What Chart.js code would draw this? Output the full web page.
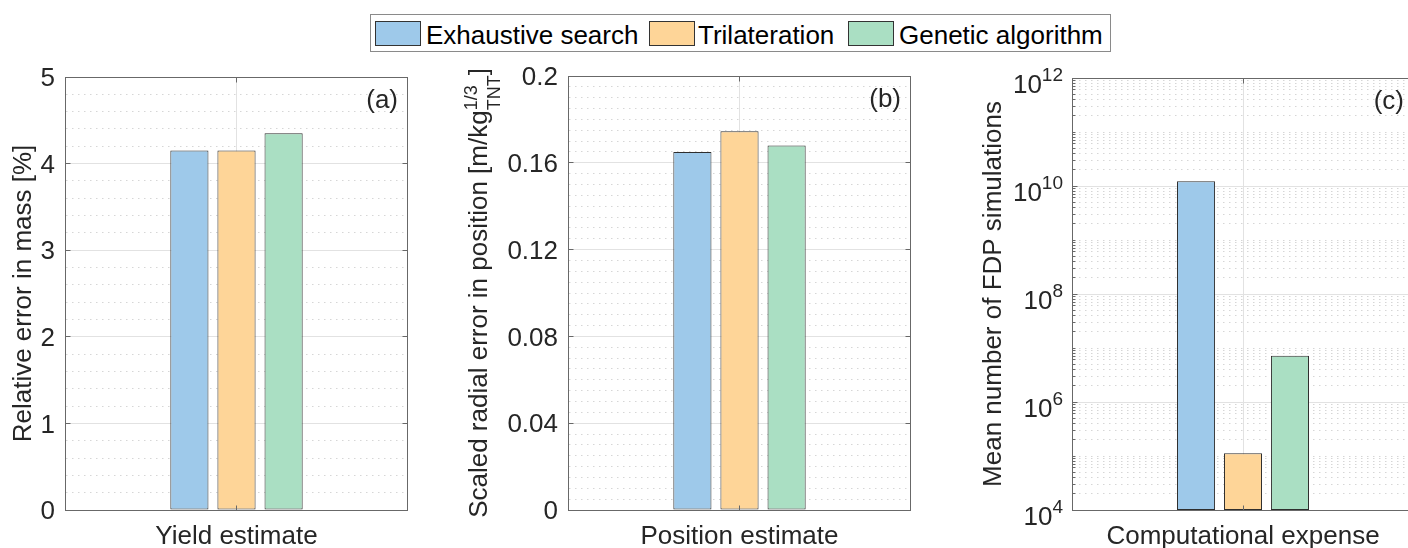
<!DOCTYPE html>
<html>
<head>
<meta charset="utf-8">
<script src="https://cdn.jsdelivr.net/npm/chart.js@4.4.1/dist/chart.umd.min.js"></script>
<style>
html,body{margin:0;padding:0;background:#fff;overflow:hidden;width:1408px;height:548px;position:relative}
canvas{position:absolute;top:0}
#legend{position:absolute;left:370px;top:14px;width:739px;height:36px;border:1px solid #8a8a8a;background:#fff;
  font:26px "Liberation Sans",Arial,sans-serif;color:#000}
#legend .sw{position:absolute;top:6px;width:44px;height:23px;border:1px solid #333}
#legend .lt{position:absolute;top:6px;line-height:29px;white-space:nowrap}
</style>
</head>
<body>
<div id="legend"></div>
<canvas id="cA" width="430" height="548" style="left:0px"></canvas>
<canvas id="cB" width="500" height="548" style="left:430px"></canvas>
<canvas id="cC" width="500" height="548" style="left:930px"></canvas>
<script>
// values
const algorithms = ['Exhaustive search', 'Trilateration', 'Genetic algorithm'];
const categories = ['Yield estimate', 'Position estimate', 'Computational expense'];
const yieldError = [4.15, 4.15, 4.35];
const positionError = [0.165, 0.1745, 0.168];
const fdpRuns = [1.23e10, 1.13e5, 7.2e6];
const yieldTicks = [0, 1, 2, 3, 4, 5];
const yieldTickLabels = ['0', '1', '2', '3', '4', '5'];
const positionTicks = [0, 0.04, 0.08, 0.12, 0.16, 0.2];
const positionTickLabels = ['0', '0.04', '0.08', '0.12', '0.16', '0.2'];
const runExponents = [4, 6, 8, 10, 12];
const panelTags = ['(a)', '(b)', '(c)'];
const massTitle = ['Relative error in mass [%]'];
const positionTitle = ['Scaled radial error in position [m/kg', '1/3', 'TNT', ']'];
const runsTitle = ['Mean number of FDP simulations'];

const barColors = ['#9ec9ea', '#fed598', '#aadfc3'];
const FAMILY = '"Liberation Sans", Arial, sans-serif';
const INK = '#262626', AXIS = '#686868', GRID = '#e2e2e2', MINOR = '#d6d6d6', EDGE = '#2e2e2e';

// legend
const legendSw = [4, 278, 477], legendTx = [55, 327, 528];
const lg = document.getElementById('legend');
algorithms.forEach((name, i) => {
  const s = document.createElement('div'); s.className = 'sw';
  s.style.left = legendSw[i] + 'px'; s.style.background = barColors[i]; lg.appendChild(s);
  const t = document.createElement('div'); t.className = 'lt';
  t.style.left = legendTx[i] + 'px'; t.textContent = name; lg.appendChild(t);
});

const al = p => Math.round(p - 0.5) + 0.5;

function drawTitle(ctx, parts, bx, cy) {
  ctx.save(); ctx.translate(bx, cy); ctx.rotate(-Math.PI / 2);
  ctx.fillStyle = INK; ctx.textBaseline = 'alphabetic'; ctx.textAlign = 'left';
  const big = '26px ' + FAMILY, small = '18px ' + FAMILY;
  ctx.font = big;
  const w0 = ctx.measureText(parts[0]).width, w3 = parts[3] ? ctx.measureText(parts[3]).width : 0;
  ctx.font = small;
  const w1 = parts[1] ? Math.max(ctx.measureText(parts[1]).width, ctx.measureText(parts[2]).width) : 0;
  let px = -(w0 + w1 + w3) / 2;
  ctx.font = big; ctx.fillText(parts[0], px, 0); px += w0;
  if (parts[1]) {
    ctx.font = small; ctx.fillText(parts[1], px, -9.5); ctx.fillText(parts[2], px, 13.5); px += w1;
    ctx.font = big; ctx.fillText(parts[3], px, 0);
  }
  ctx.restore();
}

const matlabAxes = {
  id: 'matlabAxes',
  beforeDatasetsDraw(chart, _a, o) {
    const {ctx, chartArea: a} = chart, y = chart.scales.y;
    ctx.save(); ctx.strokeStyle = MINOR; ctx.lineWidth = 1; ctx.setLineDash([1.5, 4.5]);
    for (const v of o.minor) {
      const p = al(y.getPixelForValue(v));
      if (p <= a.top + 1 || p >= a.bottom - 1) continue;
      ctx.beginPath(); ctx.moveTo(a.left + 1, p); ctx.lineTo(a.right - 1, p); ctx.stroke();
    }
    ctx.restore();
  },
  afterDatasetsDraw(chart, _a, o) {
    const {ctx, chartArea: a} = chart, x = chart.scales.x, y = chart.scales.y;
    const L = al(a.left), R = al(a.right - 1), T = al(a.top), B = al(a.bottom);
    ctx.save();
    ctx.strokeStyle = AXIS; ctx.lineWidth = 1;
    ctx.strokeRect(L, T, R - L, B - T);
    ctx.beginPath();
    y.ticks.forEach(t => {
      const p = al(y.getPixelForValue(t.value));
      ctx.moveTo(L, p); ctx.lineTo(L + 5, p); ctx.moveTo(R, p); ctx.lineTo(R - 5, p);
    });
    if (o.minorTicks) o.minor.forEach(v => {
      const p = al(y.getPixelForValue(v));
      ctx.moveTo(L, p); ctx.lineTo(L + 3, p); ctx.moveTo(R, p); ctx.lineTo(R - 3, p);
    });
    const cx = al(x.getPixelForTick(0));
    ctx.moveTo(cx, B); ctx.lineTo(cx, B - 5); ctx.moveTo(cx, T); ctx.lineTo(cx, T + 5);
    ctx.stroke();

    ctx.fillStyle = INK; ctx.textBaseline = 'alphabetic';
    ctx.font = '26px ' + FAMILY; ctx.textAlign = 'right';
    ctx.fillText(o.tag, a.right - 10, a.top + 31);

    if (o.exponents) {
      ctx.textAlign = 'left';
      o.exponents.forEach(e => {
        const p = y.getPixelForValue(10 ** e), xr = a.left - 9;
        ctx.font = '19px ' + FAMILY; const we = ctx.measureText(String(e)).width;
        ctx.font = '26px ' + FAMILY; const wb = ctx.measureText('10').width;
        ctx.fillText('10', xr - we - wb, p + 14.5);
        ctx.font = '19px ' + FAMILY; ctx.fillText(String(e), xr - we, p + 2.5);
      });
    }
    ctx.restore();
    drawTitle(ctx, o.title, a.left - o.titleOff, (a.top + a.bottom) / 2);
  }
};

function linMinor(ticks, n) {
  const out = [];
  for (let i = 0; i < ticks.length - 1; i++)
    for (let k = 1; k < n; k++) out.push(ticks[i] + (ticks[i + 1] - ticks[i]) * k / n);
  return out;
}
function logMinor(exps) {
  const out = [];
  for (let e = exps[0]; e < exps[exps.length - 1]; e++)
    for (let k = 1; k < 10; k++) if (!(k === 1 && exps.includes(e))) out.push(k * 10 ** e);
  return out;
}

function makeChart(id, cat, values, yScale, box, extra) {
  return new Chart(document.getElementById(id), {
    type: 'bar',
    data: {
      labels: [cat],
      datasets: algorithms.map((name, i) => ({
        label: name, data: [values[i]], backgroundColor: barColors[i], borderColor: EDGE,
        borderWidth: 1, borderSkipped: false, categoryPercentage: 0.412, barPercentage: 0.81
      }))
    },
    options: {
      responsive: false, animation: false, events: [],
      layout: {padding: {left: 0, right: box.right, top: box.top, bottom: 0}},
      plugins: {legend: {display: false}, tooltip: {enabled: false}, matlabAxes: extra},
      scales: {
        x: {
          grid: {offset: false, color: GRID, drawTicks: false}, border: {display: false},
          ticks: {font: {family: FAMILY, size: 26}, color: INK, padding: 11, maxRotation: 0},
          afterFit: s => { s.height = 548 - box.bottom; }
        },
        y: Object.assign({
          grid: {color: GRID, drawTicks: false}, border: {display: false},
          afterFit: s => { s.width = box.left; }
        }, yScale)
      }
    },
    plugins: [matlabAxes]
  });
}

makeChart('cA', categories[0], yieldError, {
  min: 0, max: 5,
  afterBuildTicks: s => { s.ticks = yieldTicks.map(v => ({value: v})); },
  ticks: {callback: (v, i) => yieldTickLabels[i], font: {family: FAMILY, size: 26}, color: INK, padding: 10, labelOffset: 2}
}, {left: 65, right: 22, top: 77, bottom: 510},
{minor: linMinor(yieldTicks, 5), tag: panelTags[0], title: massTitle, titleOff: 34});

makeChart('cB', categories[1], positionError, {
  min: 0, max: 0.2,
  afterBuildTicks: s => { s.ticks = positionTicks.map(v => ({value: v})); },
  ticks: {callback: (v, i) => positionTickLabels[i], font: {family: FAMILY, size: 26}, color: INK, padding: 10, labelOffset: 2}
}, {left: 138, right: 19, top: 76, bottom: 510},
{minor: linMinor(positionTicks, 8), tag: panelTags[1], title: positionTitle, titleOff: 81.5});

makeChart('cC', categories[2], fdpRuns, {
  type: 'logarithmic', min: 10 ** runExponents[0], max: 10 ** runExponents[runExponents.length - 1],
  afterBuildTicks: s => { s.ticks = runExponents.map(e => ({value: 10 ** e})); },
  ticks: {display: false}
}, {left: 142, right: 16, top: 78, bottom: 510},
{minor: logMinor(runExponents), minorTicks: true, exponents: runExponents, tag: panelTags[2], title: runsTitle, titleOff: 71.5});
</script>
</body>
</html>
